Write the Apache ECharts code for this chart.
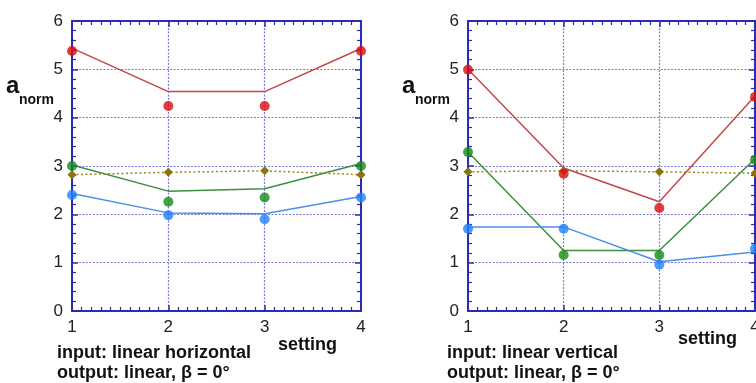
<!DOCTYPE html>
<html>
<head>
<meta charset="utf-8">
<script src="https://cdn.jsdelivr.net/npm/echarts@6/dist/echarts.min.js"></script>
<style>
  html, body { margin: 0; padding: 0; background: #fff; }
  #chart { width: 756px; height: 383px; }
</style>
</head>
<body>
<div id="chart"></div>
<script>
// x-Werte (setting)
const settings = [1, 2, 3, 4];

// linkes Panel: input linear horizontal
const redFitH = [5.44, 4.54, 4.54, 5.43];
const redDataH = [5.38, 4.24, 4.24, 5.38];
const greenFitH = [3.02, 2.48, 2.53, 3.05];
const greenDataH = [3.00, 2.26, 2.35, 3.00];
const oliveH = [2.82, 2.87, 2.90, 2.82];
const blueFitH = [2.43, 2.03, 2.01, 2.37];
const blueDataH = [2.40, 1.98, 1.90, 2.35];

// rechtes Panel: input linear vertical
const redFitV = [5.00, 2.96, 2.26, 4.45];
const redDataV = [4.99, 2.84, 2.13, 4.43];
const greenFitV = [3.29, 1.25, 1.25, 3.15];
const greenDataV = [3.29, 1.16, 1.16, 3.13];
const oliveV = [2.88, 2.90, 2.88, 2.85];
const blueFitV = [1.74, 1.74, 1.02, 1.22];
const blueDataV = [1.70, 1.70, 0.96, 1.29];

const yTicks = [0, 1, 2, 3, 4, 5, 6];

const FRAME = '#2b2bb8';
const GRIDC = '#7a7ad6';
const FONT = '"Liberation Sans", Arial, sans-serif';

const pts = (ys) => settings.map((x, i) => [x, ys[i]]);

function fitLine(idx, ys, color) {
  return {
    type: 'line', xAxisIndex: idx, yAxisIndex: idx, data: pts(ys),
    symbol: 'none', lineStyle: { color: color, width: 1.5 }, z: 3
  };
}
function dots(idx, ys, color) {
  return {
    type: 'scatter', xAxisIndex: idx, yAxisIndex: idx, data: pts(ys),
    symbol: 'circle', symbolSize: 10, itemStyle: { color: color }, z: 5
  };
}
function olive(idx, ys) {
  return {
    type: 'line', xAxisIndex: idx, yAxisIndex: idx, data: pts(ys),
    symbol: 'diamond', symbolSize: 9, showSymbol: true,
    itemStyle: { color: '#8a7412' },
    lineStyle: { color: '#9a8420', width: 1.5, type: [2, 2.5] }, z: 4
  };
}

function mainX(gi) {
  return {
    type: 'value', gridIndex: gi, min: 1, max: 4, interval: 1, position: 'bottom',
    axisLine: { lineStyle: { color: FRAME, width: 2 } },
    axisTick: { inside: true, length: 6, lineStyle: { color: FRAME, width: 1.5 } },
    minorTick: { show: true, splitNumber: 10, length: 4, lineStyle: { color: FRAME, width: 1.2 } },
    axisLabel: { color: '#222', fontSize: 17, fontFamily: FONT, margin: 8 },
    splitLine: { show: true, lineStyle: { color: GRIDC, type: [2, 1.5], width: 1.2 } }
  };
}
function topX(gi) {
  return {
    type: 'value', gridIndex: gi, min: 1, max: 4, interval: 1, position: 'top',
    axisLine: { onZero: false, lineStyle: { color: FRAME, width: 2 } },
    axisTick: { inside: true, length: 6, lineStyle: { color: FRAME, width: 1.5 } },
    minorTick: { show: true, splitNumber: 10, length: 4, lineStyle: { color: FRAME, width: 1.2 } },
    axisLabel: { show: false }, splitLine: { show: false }
  };
}
function mainY(gi) {
  return {
    type: 'value', gridIndex: gi, min: 0, max: 6, interval: 1, position: 'left',
    axisLine: { show: true, onZero: false, lineStyle: { color: FRAME, width: 2 } },
    axisTick: { show: true, inside: true, length: 6, lineStyle: { color: FRAME, width: 1.5 } },
    minorTick: { show: true, splitNumber: 5, length: 4, lineStyle: { color: FRAME, width: 1.2 } },
    axisLabel: { color: '#222', fontSize: 17, fontFamily: FONT, margin: 9,
      formatter: (v) => yTicks.includes(v) ? String(v) : '' },
    splitLine: { show: true, lineStyle: { color: GRIDC, type: [2, 1.5], width: 1.2 } }
  };
}
function rightY(gi) {
  return {
    type: 'value', gridIndex: gi, min: 0, max: 6, interval: 1, position: 'right',
    axisLine: { show: true, onZero: false, lineStyle: { color: FRAME, width: 2 } },
    axisTick: { show: true, inside: true, length: 6, lineStyle: { color: FRAME, width: 1.5 } },
    minorTick: { show: true, splitNumber: 5, length: 4, lineStyle: { color: FRAME, width: 1.2 } },
    axisLabel: { show: false }, splitLine: { show: false }
  };
}

function txt(x, y, s, size, bold) {
  return {
    type: 'text', x: x, y: y,
    style: { text: s, fontSize: size, fontWeight: bold ? 'bold' : 'normal',
      fontFamily: FONT, fill: '#111', textVerticalAlign: 'middle' }
  };
}

const chart = echarts.init(document.getElementById('chart'));
chart.setOption({
  animation: false,
  backgroundColor: '#fff',
  grid: [
    { left: 72, top: 21, width: 289, height: 290, outerBoundsMode: 'none' },
    { left: 468, top: 21, width: 287, height: 290, outerBoundsMode: 'none' }
  ],
  xAxis: [mainX(0), mainX(1), topX(0), topX(1)],
  yAxis: [mainY(0), mainY(1), rightY(0), rightY(1)],
  series: [
    fitLine(0, redFitH, '#c24848'), dots(0, redDataH, '#d80c0c'),
    fitLine(0, greenFitH, '#3d8f3d'), dots(0, greenDataH, '#168a16'),
    olive(0, oliveH),
    fitLine(0, blueFitH, '#4b8fe6'), dots(0, blueDataH, '#1f80ff'),
    fitLine(1, redFitV, '#c24848'), dots(1, redDataV, '#d80c0c'),
    fitLine(1, greenFitV, '#3d8f3d'), dots(1, greenDataV, '#168a16'),
    olive(1, oliveV),
    fitLine(1, blueFitV, '#4b8fe6'), dots(1, blueDataV, '#1f80ff')
  ],
  graphic: [
    txt(6, 86, 'a', 24, true), txt(19, 100, 'norm', 14, true),
    txt(402, 86, 'a', 24, true), txt(415, 100, 'norm', 14, true),
    txt(278, 345, 'setting', 18, true),
    txt(678, 339, 'setting', 18, true),
    txt(57, 353, 'input: linear horizontal', 18, true),
    txt(57, 373, 'output: linear, \u03b2 = 0\u00b0', 18, true),
    txt(447, 353, 'input: linear vertical', 18, true),
    txt(447, 373, 'output: linear, \u03b2 = 0\u00b0', 18, true)
  ]
});
</script>
</body>
</html>
